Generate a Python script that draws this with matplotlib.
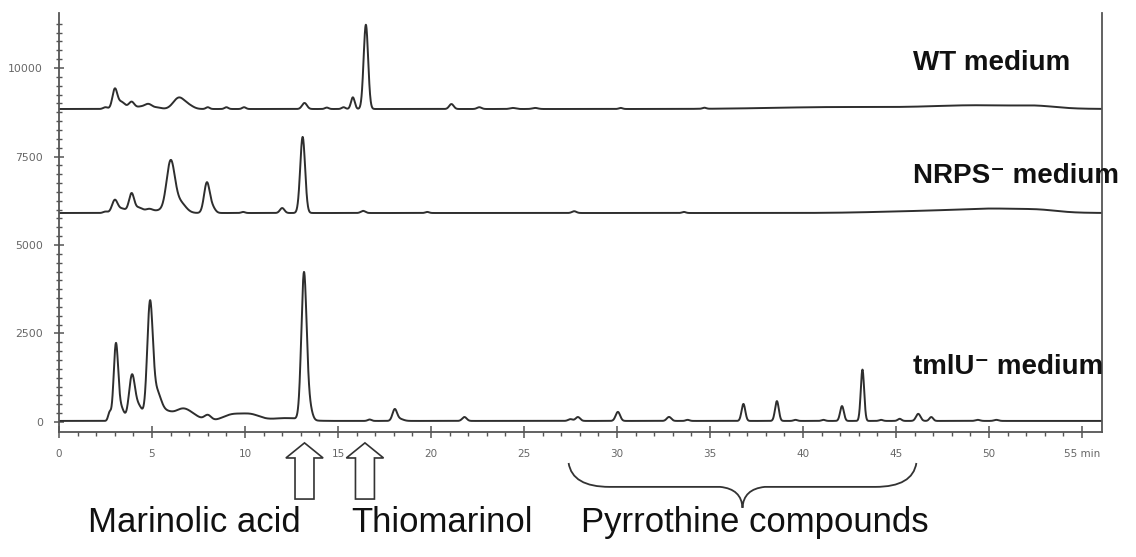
import numpy as np
import matplotlib
matplotlib.use("Agg")
import matplotlib.pyplot as plt
from matplotlib.patches import FancyArrow, PathPatch
from matplotlib.path import Path
import matplotlib.transforms as mtransforms

# baselines of the three stacked chromatograms (mAU)
wtBase = 8842
nrpsBase = 5904
tmluBase = 30

# peak tables: retention time (min), height above baseline, width (sigma, min)
wtTimes = [2.5, 3.0, 3.35, 3.9, 4.35, 4.8, 5.3, 6.45, 7.0, 8.0, 9.0, 9.95, 13.2, 14.4, 15.3, 15.8, 16.5,
           21.1, 22.6, 24.4, 25.6, 30.2, 34.7, 42.0, 49.5, 52.6]
wtHeights = [50, 540, 200, 200, 60, 140, 40, 320, 80, 50, 50, 50, 170, 40, 50, 330, 2380,
             140, 50, 30, 30, 30, 30, 55, 100, 50]
wtWidths = [0.12, 0.13, 0.2, 0.15, 0.2, 0.2, 0.2, 0.3, 0.25, 0.1, 0.1, 0.1, 0.13, 0.1, 0.1, 0.1, 0.12,
            0.12, 0.12, 0.15, 0.15, 0.1, 0.1, 3.5, 2.5, 1.0]

nrpsTimes = [2.5, 3.0, 3.4, 3.9, 4.3, 4.85, 5.4, 6.0, 6.5, 7.95, 8.25, 9.9, 12.0, 13.1, 16.35,
             19.8, 27.7, 33.6, 46.5, 50.5, 52.8]
nrpsHeights = [40, 360, 120, 540, 150, 110, 70, 1420, 300, 850, 150, 30, 140, 2150, 60,
               30, 50, 30, 50, 110, 40]
nrpsWidths = [0.12, 0.15, 0.2, 0.14, 0.2, 0.2, 0.25, 0.22, 0.3, 0.15, 0.15, 0.1, 0.12, 0.13, 0.12,
              0.1, 0.12, 0.1, 2.5, 2.0, 0.9]

tmluTimes = [2.72, 3.06, 3.35, 3.92, 4.3, 4.89, 5.25, 5.7, 6.6, 7.2, 8.0, 9.3, 10.3, 12.2, 13.17, 13.45,
             16.7, 18.05, 18.3, 21.8, 27.5, 27.9, 30.05, 32.8, 33.8, 36.8, 38.6, 39.6, 41.1, 42.1,
             43.2, 44.2, 45.2, 46.2, 46.9, 49.4, 50.4]
tmluHeights = [230, 2150, 350, 1250, 400, 3200, 700, 250, 300, 130, 150, 170, 175, 80, 4100, 400,
               40, 310, 60, 110, 50, 110, 255, 113, 30, 480, 560, 30, 30, 420,
               1450, 30, 60, 200, 110, 30, 30]
tmluWidths = [0.08, 0.12, 0.15, 0.16, 0.2, 0.15, 0.22, 0.35, 0.4, 0.4, 0.18, 0.5, 0.5, 0.8, 0.14, 0.15,
              0.1, 0.12, 0.2, 0.12, 0.12, 0.12, 0.12, 0.12, 0.1, 0.1, 0.1, 0.1, 0.1, 0.1,
              0.09, 0.1, 0.1, 0.12, 0.1, 0.12, 0.12]

traceLabels = ["WT medium", "NRPS\u207b medium", "tmlU\u207b medium"]
labelLevels = [10140, 6950, 1560]

compoundNames = ["Marinolic acid", "Thiomarinol", "Pyrrothine compounds"]
compoundCenters = [7.3, 20.6, 37.4]
arrowTimes = [13.2, 16.45]
braceRange = [27.4, 46.1]

xTicks = [0, 5, 10, 15, 20, 25, 30, 35, 40, 45, 50, 55]
xTickLabels = ["0", "5", "10", "15", "20", "25", "30", "35", "40", "45", "50", "55 min"]
yTicks = [0, 2500, 5000, 7500, 10000]


def buildTrace(t, base, times, heights, widths):   # sum of gaussian peaks on a flat baseline
    y = np.full_like(t, float(base))
    for rt, h, w in zip(times, heights, widths):
        y = y + h * np.exp(-0.5 * ((t - rt) / w) ** 2)
    return y


fig = plt.figure(figsize=(11.36, 5.57), dpi=100)
ax = fig.add_axes([59 / 1136, 125 / 557, (1102 - 59) / 1136, 419 / 557])

t = np.linspace(0, 56.08, 6000)
lineColor = "#2e2e2e"
for base, tt, hh, ww in [(wtBase, wtTimes, wtHeights, wtWidths),
                         (nrpsBase, nrpsTimes, nrpsHeights, nrpsWidths),
                         (tmluBase, tmluTimes, tmluHeights, tmluWidths)]:
    ax.plot(t, buildTrace(t, base, tt, hh, ww), color=lineColor, lw=1.4, solid_joinstyle="round")

ax.set_xlim(0, 56.08)
ax.set_ylim(-283, 11554)

# axes look
for side in ["left", "bottom", "right"]:
    ax.spines[side].set_color("#555555")
    ax.spines[side].set_linewidth(1.3)
ax.spines["top"].set_visible(False)

ax.set_xticks(xTicks)
ax.set_xticklabels(xTickLabels)
ax.set_xticks(np.arange(0, 56, 1), minor=True)
ax.set_yticks(yTicks)
ax.set_yticklabels([str(v) for v in yTicks])
ax.set_yticks(np.arange(0, 11500, 250), minor=True)
ax.tick_params(axis="x", which="major", direction="inout", length=8, width=1.1, color="#555555",
               labelsize=7.5, labelcolor="#666666", pad=8)
ax.tick_params(axis="x", which="minor", direction="out", length=3, width=1.0, color="#555555")
ax.tick_params(axis="y", which="major", direction="inout", length=7, width=1.1, color="#555555",
               labelsize=7.8, labelcolor="#666666", pad=8)
ax.tick_params(axis="y", which="minor", direction="inout", length=4, width=1.0, color="#555555")
ax.tick_params(axis="y", which="both", right=False)

# trace names
for name, level in zip(traceLabels, labelLevels):
    ax.text(45.9, level, name, fontsize=20, fontweight="bold", va="center", ha="left",
            family=["Liberation Sans", "DejaVu Sans"], color="#111111")

# arrows and brace under the axis (x in minutes, y in axes fraction)
trans = mtransforms.blended_transform_factory(ax.transData, ax.transAxes)
for at in arrowTimes:
    arr = FancyArrow(at, -0.160, 0, 0.134, width=1.02, head_width=2.0, head_length=0.036,
                     length_includes_head=True, fill=False, edgecolor="#333333", lw=1.2,
                     transform=trans, clip_on=False)
    ax.add_patch(arr)

left, right = braceRange
mid = (left + right) / 2
yTop, yMid, yTip = -0.074, -0.131, -0.181
verts = [(left, yTop), (left + 0.2, yMid), (left + 2.2, yMid),
         (mid - 1.2, yMid), (mid - 0.05, yMid - 0.005), (mid, yTip),
         (mid + 0.05, yMid - 0.005), (mid + 1.2, yMid),
         (right - 2.2, yMid), (right - 0.2, yMid), (right, yTop)]
codes = [Path.MOVETO, Path.CURVE3, Path.CURVE3,
         Path.LINETO, Path.CURVE3, Path.CURVE3,
         Path.CURVE3, Path.CURVE3,
         Path.LINETO, Path.CURVE3, Path.CURVE3]
ax.add_patch(PathPatch(Path(verts, codes), fill=False, edgecolor="#333333", lw=1.3,
                       transform=trans, clip_on=False))

for name, cx in zip(compoundNames, compoundCenters):
    ax.text(cx, -0.215, name, fontsize=25, ha="center", va="center", transform=trans,
            family=["Liberation Sans", "DejaVu Sans"], color="#111111")

fig.savefig("out.png", dpi=100)
